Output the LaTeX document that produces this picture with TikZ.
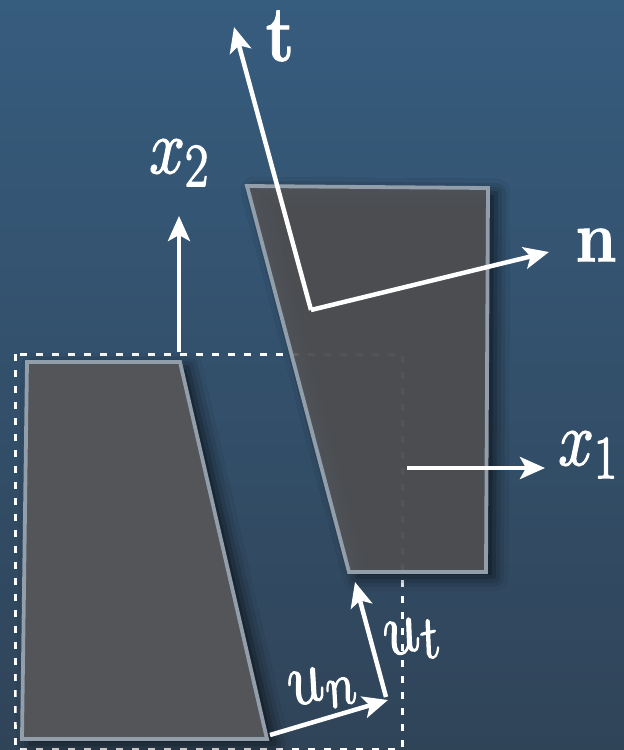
\RequirePackage{fix-cm}
\documentclass[tikz,border=0pt]{standalone}
\usepackage{graphicx}
\usetikzlibrary{arrows.meta,shadows.blur}
\DeclareMathSizes{64}{64}{51}{38}
\definecolor{bgtop}{RGB}{54,92,126}
\definecolor{bgbot}{RGB}{48,68,88}
\definecolor{blockfill}{RGB}{84,85,88}
\definecolor{blockline}{RGB}{146,158,170}
\newcommand{\heavytext}[2]{\special{pdf:literal direct 2 Tr #1 w 1 j}#2\special{pdf:literal direct 0 Tr}}
\tikzset{
  block/.style={fill=blockfill, draw=blockline, line width=3.8pt, line join=miter,
    blur shadow={shadow xshift=8pt, shadow yshift=-5pt, shadow blur radius=14pt, shadow opacity=70}},
  vec/.style={draw=white, line width=4.5pt, -{Stealth[length=25pt,width=22pt,inset=6pt]}},
  framebox/.style={draw=white, line width=3pt, dash pattern=on 7pt off 9pt},
  lbl/.style={text=white, inner sep=0pt, font=\fontsize{64}{76}\selectfont},
  blbl/.style={text=white, inner sep=0pt, font=\fontsize{66}{78}\selectfont\bfseries},
}
\begin{document}
\begin{tikzpicture}[x=1pt,y=-1pt]
\useasboundingbox (0,0) rectangle (624,750);
\shade[top color=bgtop, bottom color=bgbot] (0,0) rectangle (624,750);
% coordinates
\coordinate (L1) at (27,362);
\coordinate (L2) at (180,362);
\coordinate (L3) at (267,739);
\coordinate (L4) at (22,739);
\coordinate (R1) at (247,186);
\coordinate (R2) at (488,188);
\coordinate (R3) at (486,572);
\coordinate (R4) at (349,572);
\coordinate (F1) at (15,354);
\coordinate (F2) at (402,749);
\coordinate (X2s) at (179,352);
\coordinate (X2e) at (179,216);
\coordinate (O) at (311,310);
\coordinate (Te) at (234,27);
\coordinate (Ne) at (549,252);
\coordinate (X1s) at (407,468);
\coordinate (X1e) at (545,468);
\coordinate (UNs) at (270,735);
\coordinate (UNe) at (388,700);
\coordinate (UTs) at (386,697);
\coordinate (UTe) at (355,582);
% dashed frame
\draw[framebox] (F1) rectangle (F2);
% blocks
\draw[block] (L1) -- (L2) -- (L3) -- (L4) -- cycle;
\draw[block, fill opacity=0.88] (R1) -- (R2) -- (R3) -- (R4) -- cycle;
% vectors
\draw[vec] (X2s) -- (X2e);
\draw[vec] (O) -- (Te);
\draw[vec] (O) -- (Ne);
\draw[vec] (X1s) -- (X1e);
\draw[vec] (UNs) -- (UNe);
\draw[vec] (UTs) -- (UTe);
% labels
\node[lbl] (lx2) at (179,163) {\scalebox{1}[1.2]{\heavytext{1.3}{$x_2$}}};
\node[lbl] (lx1) at (588,455) {\scalebox{1}[1.2]{\heavytext{1.3}{$x_1$}}};
\node[blbl] (lt) at (280,36) {\scalebox{1}[1.2]{\heavytext{0.8}{t}}};
\node[blbl] (ln) at (596,245) {\scalebox{1}[1.1]{\heavytext{0.8}{n}}};
\node[lbl, rotate=15] (lun) at (322,688) {\scalebox{1}[1.2]{\heavytext{1.1}{$u_n$}}};
\node[lbl, rotate=14] (lut) at (412,640) {\scalebox{1}[1.2]{\heavytext{1.1}{$u_t$}}};
\end{tikzpicture}
\end{document}
